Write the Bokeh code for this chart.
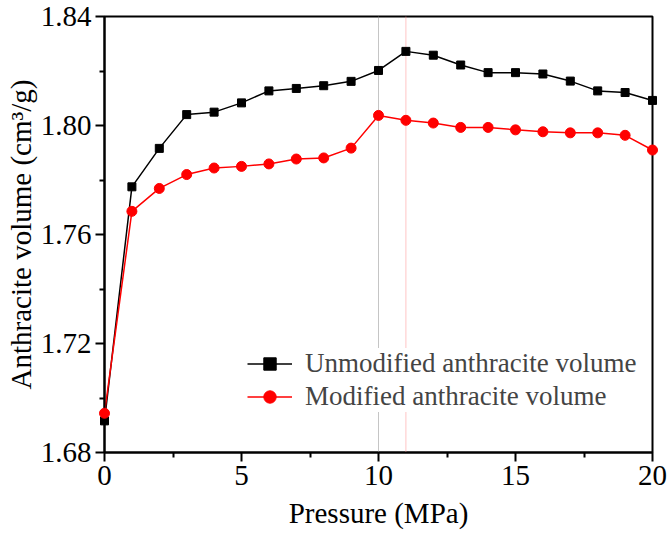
from bokeh.plotting import figure
from bokeh.models import (Range1d, FixedTicker, PrintfTickFormatter, Span,
                          Legend, LegendItem)
from bokeh.embed import file_html
from bokeh.resources import INLINE

pressure = list(range(0, 21))
unmodified = [1.6916, 1.7775, 1.7916, 1.8040, 1.8049, 1.8083, 1.8127, 1.8136,
              1.8146, 1.8162, 1.8202, 1.8272, 1.8258, 1.8222, 1.8194, 1.8194,
              1.8189, 1.8163, 1.8127, 1.8121, 1.8092]
modified = [1.6944, 1.7685, 1.7769, 1.7820, 1.7844, 1.7850, 1.7859, 1.7877,
            1.7881, 1.7917, 1.8037, 1.8019, 1.8009, 1.7993, 1.7993, 1.7984,
            1.7977, 1.7973, 1.7973, 1.7964, 1.7910]
x_ticks = [0, 5, 10, 15, 20]
x_minor = [2.5, 7.5, 12.5, 17.5]
y_ticks = [1.68, 1.72, 1.76, 1.80, 1.84]
y_minor = [1.70, 1.74, 1.78, 1.82]
marker_lines = [10, 11]
labels = ["Unmodified anthracite volume", "Modified anthracite volume"]

FONT = "Liberation Serif"

p = figure(width=667, height=533, output_backend="svg", toolbar_location=None,
           x_range=Range1d(x_ticks[0], x_ticks[-1]),
           y_range=Range1d(y_ticks[0], y_ticks[-1]),
           min_border_left=104, min_border_right=15, min_border_top=16,
           min_border_bottom=81)
p.background_fill_color = "white"
p.border_fill_color = "white"
p.grid.visible = False
p.outline_line_color = "black"
p.outline_line_width = 2
p.outline_line_alpha = 1

# vertical dotted guide lines
p.add_layout(Span(location=marker_lines[0], dimension="height", line_color="#8a8a8a",
                  line_width=1, line_dash="1 1"))
p.add_layout(Span(location=marker_lines[1], dimension="height", line_color="#ff8a8a",
                  line_width=1, line_dash="1 1"))

l1 = p.line(pressure, unmodified, line_color="black", line_width=1.5)
l2 = p.line(pressure, modified, line_color="red", line_width=1.5)
s1 = p.scatter(pressure, unmodified, marker="square", size=8, fill_color="black",
               line_color="black", level="overlay")
s2 = p.scatter(pressure, modified, marker="circle", size=10, fill_color="red",
               line_color="red", level="overlay")

for ax in (p.xaxis[0], p.yaxis[0]):
    ax.axis_line_width = 2
    ax.major_tick_line_width = 2
    ax.minor_tick_line_width = 2
    ax.major_tick_out = 9
    ax.major_tick_in = 0
    ax.minor_tick_out = 5
    ax.minor_tick_in = 0
    ax.major_label_text_font = FONT
    ax.major_label_text_font_size = "29px"
    ax.major_label_text_color = "black"
    ax.axis_label_text_font = FONT
    ax.axis_label_text_font_size = "29px"
    ax.axis_label_text_font_style = "normal"
    ax.axis_label_text_color = "black"

p.xaxis[0].ticker = FixedTicker(ticks=x_ticks, minor_ticks=x_minor)
p.yaxis[0].ticker = FixedTicker(ticks=y_ticks, minor_ticks=y_minor)
p.yaxis[0].formatter = PrintfTickFormatter(format="%.2f")
p.xaxis[0].axis_label = "Pressure (MPa)"
p.yaxis[0].axis_label = "Anthracite volume (cm³/g)"
p.xaxis[0].major_label_standoff = 4
p.xaxis[0].axis_label_standoff = 9
p.yaxis[0].major_label_standoff = 4
p.yaxis[0].axis_label_standoff = 1

legend = Legend(items=[LegendItem(label=labels[0], renderers=[l1, s1]),
                       LegendItem(label=labels[1], renderers=[l2, s2])],
                location=(143, 40), border_line_color=None,
                background_fill_color="white", background_fill_alpha=1,
                label_text_font=FONT, label_text_font_size="27px",
                glyph_width=45, glyph_height=31, label_height=31,
                label_standoff=13, padding=4, spacing=2, margin=0)
p.add_layout(legend, "center")

open("out.html", "w").write(file_html(p, INLINE))
